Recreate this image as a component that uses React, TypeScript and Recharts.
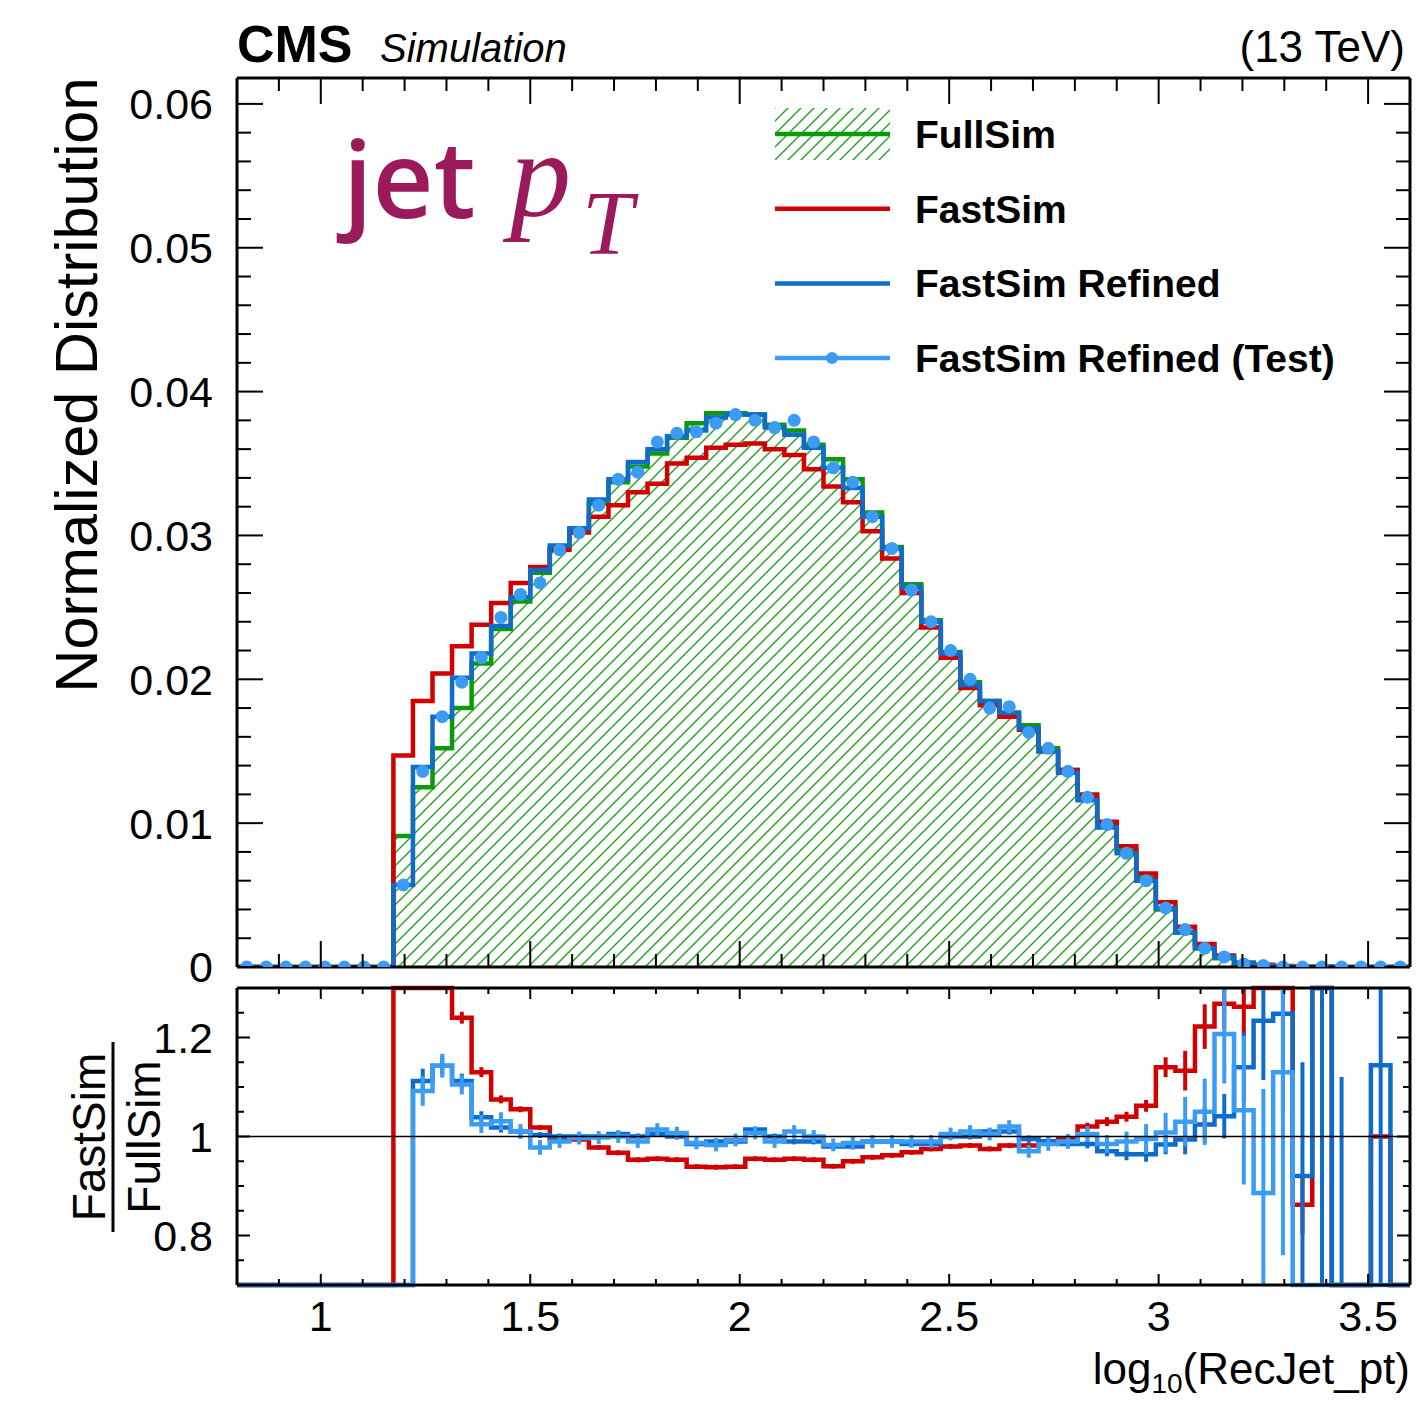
import React from 'react';
import {
  ComposedChart,
  Area,
  Line,
  Scatter,
  XAxis,
  YAxis,
  ErrorBar,
  ReferenceLine,
  Legend,
} from 'recharts';

// binning of log10(RecJet_pt): 60 equal bins
const X_MIN = 0.8;
const X_MAX = 3.6;
const N_BINS = 60;
const BIN_W = (X_MAX - X_MIN) / N_BINS;

// normalized distributions, one value per bin
const fullSim = [
  0, 0, 0, 0, 0, 0, 0, 0, 0.0091, 0.0125,
  0.0152, 0.018, 0.0211, 0.0235, 0.0254, 0.0274, 0.0291, 0.0304, 0.0322, 0.0337,
  0.0348, 0.0357, 0.0368, 0.0378, 0.0385, 0.0385, 0.0384, 0.0377, 0.0373, 0.0363,
  0.0353, 0.0339, 0.0316, 0.0292, 0.0266, 0.0241, 0.0219, 0.0198, 0.0185, 0.0176,
  0.0168, 0.0152, 0.0137, 0.0117, 0.0099, 0.0081, 0.0062, 0.004, 0.0024, 0.0013,
  0.0006, 0.0002, 0.0001, 0.00005, 0.00002, 0.00001, 0, 0, 0, 0,
];
const fastSim = [
  0, 0, 0, 0, 0, 0, 0, 0, 0.0147, 0.0185,
  0.0204, 0.0223, 0.0238, 0.0253, 0.0267, 0.0278, 0.029, 0.0302, 0.0313, 0.0321,
  0.033, 0.0336, 0.035, 0.0354, 0.0361, 0.0363, 0.0364, 0.036, 0.0356, 0.0346,
  0.0334, 0.0323, 0.0303, 0.0284, 0.026, 0.0236, 0.0215, 0.0194, 0.0182, 0.0174,
  0.0165, 0.015, 0.0137, 0.012, 0.0101, 0.0084, 0.0065, 0.0045, 0.0028, 0.0016,
  0.0008, 0.0003, 0.00015, 0.00007, 0.00002, 0.00001, 0, 0, 0, 0,
];
const fastSimRefined = [
  0, 0, 0, 0, 0, 0, 0, 0, 0.0057, 0.0139,
  0.0174, 0.0201, 0.0218, 0.0237, 0.0257, 0.0276, 0.0293, 0.0305, 0.0325, 0.0339,
  0.0351, 0.036, 0.0369, 0.0373, 0.0382, 0.0384, 0.0384, 0.0375, 0.037, 0.0361,
  0.0347, 0.0333, 0.0313, 0.0291, 0.0264, 0.024, 0.0218, 0.0196, 0.0185, 0.0177,
  0.0166, 0.015, 0.0135, 0.0116, 0.0097, 0.0079, 0.006, 0.0041, 0.0024, 0.0013,
  0.0007, 0.0003, 0.0001, 0.00005, 0.00002, 0.00001, 0, 0, 0, 0,
];
const fastSimTest = [
  0, 0, 0, 0, 0, 0, 0, 0, 0.0057, 0.0136,
  0.0174, 0.0198, 0.0215, 0.0243, 0.0259, 0.0267, 0.029, 0.0302, 0.0321, 0.0339,
  0.0344, 0.0365, 0.0371, 0.0372, 0.0378, 0.0384, 0.038, 0.0375, 0.038, 0.0365,
  0.0347, 0.0337, 0.0313, 0.0291, 0.0262, 0.024, 0.022, 0.02, 0.018, 0.0181,
  0.0163, 0.0152, 0.0136, 0.0118, 0.0099, 0.0079, 0.006, 0.0041, 0.0026, 0.0013,
  0.0007, 0.0002, 0.0001, 0, 0, 0, 0, 0, 0, 0,
];

// ratios to FullSim (as read from the lower pad) and their errors
const ratioFast = [
  0, 0, 0, 0, 0, 0, 0, 0, 1.61, 1.47,
  1.34, 1.24, 1.13, 1.075, 1.055, 1.018, 0.994, 0.994, 0.978, 0.967,
  0.953, 0.955, 0.953, 0.939, 0.938, 0.939, 0.955, 0.953, 0.955, 0.953,
  0.94, 0.95, 0.958, 0.962, 0.968, 0.975, 0.98, 0.982, 0.975, 0.982,
  0.982, 0.99, 0.995, 1.02, 1.03, 1.04, 1.062, 1.14, 1.133, 1.222,
  1.268, 1.262, 1.45, 1.45, 0.862, 1.45, 0, 0, 1.0, 0,
];
const ratioRefined = [
  0, 0, 0, 0, 0, 0, 0, 0, 0.63, 1.112,
  1.143, 1.112, 1.039, 1.018, 1.01, 1.003, 1.0, 1.0, 1.0, 1.005,
  1.0, 1.005, 1.0, 0.985, 0.99, 0.99, 1.014, 1.0, 0.99, 0.99,
  0.98, 0.98, 0.99, 0.99, 0.985, 0.985, 1.0, 1.0, 1.01, 1.01,
  0.995, 0.99, 0.985, 0.985, 0.97, 0.964, 0.964, 0.984, 0.994, 1.024,
  1.041, 1.14, 1.234, 1.248, 0.92, 1.5, 0, 0, 1.144, 0,
];
const ratioTest = [
  0, 0, 0, 0, 0, 0, 0, 0, 0.63, 1.092,
  1.143, 1.105, 1.025, 1.031, 1.01, 0.978, 0.99, 0.997, 0.998, 1.0,
  0.99, 1.014, 1.007, 0.987, 0.983, 0.993, 1.007, 0.99, 1.01, 1.0,
  0.983, 0.987, 0.99, 0.99, 0.99, 0.99, 1.005, 1.01, 1.005, 1.02,
  0.97, 0.985, 0.99, 1.005, 0.985, 0.99, 0.995, 1.008, 1.03, 1.05,
  1.207, 1.053, 0.886, 1.13, 0, 0, 0, 0, 0, 0,
];
const errFast = [
  0, 0, 0, 0, 0, 0, 0, 0, 0.03, 0.02,
  0.015, 0.012, 0.01, 0.008, 0.006, 0.005, 0.005, 0.005, 0.005, 0.005,
  0.005, 0.005, 0.005, 0.005, 0.005, 0.005, 0.005, 0.005, 0.005, 0.005,
  0.005, 0.005, 0.005, 0.005, 0.005, 0.005, 0.005, 0.005, 0.005, 0.005,
  0.006, 0.006, 0.007, 0.008, 0.009, 0.01, 0.012, 0.02, 0.04, 0.045,
  0.05, 0.065, 0.1, 0.15, 0.06, 0.2, 0, 0, 0, 0,
];
const errRefined = [
  0, 0, 0, 0, 0, 0, 0, 0, 0.03, 0.025,
  0.02, 0.015, 0.012, 0.01, 0.008, 0.006, 0.006, 0.006, 0.006, 0.006,
  0.006, 0.006, 0.006, 0.006, 0.006, 0.006, 0.006, 0.006, 0.006, 0.006,
  0.006, 0.006, 0.006, 0.006, 0.006, 0.006, 0.006, 0.006, 0.006, 0.006,
  0.007, 0.007, 0.008, 0.009, 0.01, 0.012, 0.015, 0.02, 0.03, 0.035,
  0.045, 0.07, 0.12, 0.2, 0.23, 1.0, 1.12, 0, 0.8, 0,
];
const errTest = [
  0, 0, 0, 0, 0, 0, 0, 0, 0.03, 0.03,
  0.024, 0.02, 0.018, 0.018, 0.015, 0.015, 0.013, 0.013, 0.013, 0.013,
  0.013, 0.013, 0.013, 0.013, 0.013, 0.013, 0.013, 0.013, 0.013, 0.013,
  0.013, 0.013, 0.013, 0.013, 0.013, 0.013, 0.013, 0.013, 0.013, 0.013,
  0.013, 0.014, 0.015, 0.016, 0.018, 0.02, 0.03, 0.04, 0.05, 0.067,
  0.1, 0.15, 0.21, 0.37, 0, 0, 0, 0, 0, 0,
];

// axis ticks
const xMajorTicks = [1, 1.5, 2, 2.5, 3, 3.5];
const xTickLabels = ['1', '1.5', '2', '2.5', '3', '3.5'];
const yMajorTicks = [0, 0.01, 0.02, 0.03, 0.04, 0.05, 0.06];
const yTickLabels = ['0', '0.01', '0.02', '0.03', '0.04', '0.05', '0.06'];
const rMajorTicks = [0.8, 1, 1.2];
const rTickLabels = ['0.8', '1', '1.2'];

const COLORS = {
  full: '#0c9a0c',
  hatch: '#2aa52a',
  fast: '#d20000',
  refined: '#0f6ccb',
  test: '#3b9cf5',
};

const legendItems = [
  { label: 'FullSim', color: COLORS.full, kind: 'fill' },
  { label: 'FastSim', color: COLORS.fast, kind: 'line' },
  { label: 'FastSim Refined', color: COLORS.refined, kind: 'line' },
  { label: 'FastSim Refined (Test)', color: COLORS.test, kind: 'marker' },
];

const R_MIN = 0.7;
const R_MAX = 1.3;
const Y_MAX = 0.0618;

const FONT = "'Liberation Sans', Arial, Helvetica, sans-serif";
const SERIF = "'Liberation Serif', 'DejaVu Serif', serif";
const PURPLE = '#9a1a5c';

const steps = (lo: number, hi: number, step: number) => {
  const out: number[] = [];
  for (let v = lo; v <= hi + 1e-9; v += step) out.push(Math.round(v * 1e6) / 1e6);
  return out;
};
const xTicks = steps(0.9, 3.5, 0.1);
const yTicks = steps(0, 0.06, 0.002);
const rTicks = steps(0.75, 1.25, 0.05);

// histogram rows at the bin edges (step-after), last bin repeated at the upper edge
const histRows = Array.from({ length: N_BINS + 1 }, (_, i) => {
  const k = Math.min(i, N_BINS - 1);
  return { x: X_MIN + i * BIN_W, full: fullSim[k], fast: fastSim[k], refined: fastSimRefined[k] };
});
const testPoints = fastSimTest.map((v, i) => ({ x: X_MIN + (i + 0.5) * BIN_W, y: v }));

// out-of-range ratios are drawn on the pad edge, like ROOT does
const clampR = (v: number) => Math.min(R_MAX, Math.max(R_MIN, v));
const errPair = (v: number, e: number) => {
  const c = clampR(v);
  return [c - clampR(v - e), clampR(v + e) - c];
};
const ratioRows = Array.from({ length: N_BINS + 1 }, (_, i) => {
  const k = Math.min(i, N_BINS - 1);
  return {
    x: X_MIN + i * BIN_W,
    fast: clampR(ratioFast[k]),
    refined: clampR(ratioRefined[k]),
    test: clampR(ratioTest[k]),
  };
});
const ratioPoints = ratioFast.map((v, i) => ({
  x: X_MIN + (i + 0.5) * BIN_W,
  fast: clampR(v),
  fastErr: errPair(v, errFast[i]),
  refined: clampR(ratioRefined[i]),
  refinedErr: errPair(ratioRefined[i], errRefined[i]),
  test: clampR(ratioTest[i]),
  testErr: errPair(ratioTest[i], errTest[i]),
}));

type Side = 'bottom' | 'top' | 'left' | 'right';

const makeTick = (side: Side, majors: number[], majorLen: number, minorLen: number, labels?: string[]) =>
  (props: any) => {
    const { x, y, payload } = props;
    const idx = majors.findIndex((m) => Math.abs(m - payload.value) < 1e-6);
    const len = idx >= 0 ? majorLen : minorLen;
    let x2 = x;
    let y2 = y;
    if (side === 'bottom') y2 = y - len;
    if (side === 'top') y2 = y + len;
    if (side === 'left') x2 = x + len;
    if (side === 'right') x2 = x - len;
    const showLabel = labels && idx >= 0;
    return (
      <g>
        <line x1={x} y1={y} x2={x2} y2={y2} stroke="#000" strokeWidth={2} />
        {showLabel && side === 'bottom' && (
          <text x={x} y={y + 46} textAnchor="middle" fontSize={43} fontFamily={FONT} fill="#000">
            {labels![idx]}
          </text>
        )}
        {showLabel && side === 'left' && (
          <text x={x - 24} y={y} dy="0.36em" textAnchor="end" fontSize={43} fontFamily={FONT} fill="#000">
            {labels![idx]}
          </text>
        )}
      </g>
    );
  };

const frame = { stroke: '#000', strokeWidth: 3 };

const HatchPattern = ({ id }: { id: string }) => (
  <pattern id={id} patternUnits="userSpaceOnUse" width={13} height={13}>
    <path d="M-2,2 L2,-2 M0,13 L13,0 M11,15 L15,11" stroke={COLORS.hatch} strokeWidth={1.5} />
  </pattern>
);

const renderLegend = () => (
  <svg width={640} height={300}>
    <defs>
      <HatchPattern id="hatchLegend" />
    </defs>
    {legendItems.map((item, i) => {
      const cy = 34 + i * 74.7;
      return (
        <g key={item.label}>
          {item.kind === 'fill' && <rect x={5} y={cy - 26} width={115} height={52} fill="url(#hatchLegend)" />}
          <line x1={5} x2={120} y1={cy} y2={cy} stroke={item.color} strokeWidth={4.5} />
          {item.kind === 'marker' && <circle cx={62} cy={cy} r={6} fill={item.color} />}
          <text x={145} y={cy + 14} fontSize={39} fontWeight="bold" fontFamily={FONT} fill="#000">
            {item.label}
          </text>
        </g>
      );
    })}
  </svg>
);

const noShape = () => <g />;

const App: React.FC = () => {
  return (
    <div style={{ position: 'absolute', left: 0, top: 0, width: 1419, height: 1401, background: '#fff' }}>
      {/* main pad */}
      <div style={{ position: 'absolute', left: 0, top: 0 }}>
        <ComposedChart width={1419} height={1000} data={histRows} margin={{ top: 77, right: 0, bottom: 25, left: 0 }}>
          <defs>
            <HatchPattern id="hatchFull" />
          </defs>
          <XAxis
            dataKey="x"
            type="number"
            domain={[X_MIN, X_MAX]}
            allowDataOverflow
            ticks={xTicks}
            interval={0}
            height={8}
            tickSize={0}
            tickMargin={0}
            tickLine={false}
            axisLine={frame}
            tick={makeTick('bottom', xMajorTicks, 26, 13)}
          />
          <XAxis
            xAxisId="top"
            orientation="top"
            dataKey="x"
            type="number"
            domain={[X_MIN, X_MAX]}
            allowDataOverflow
            ticks={xTicks}
            interval={0}
            height={1}
            tickSize={0}
            tickMargin={0}
            tickLine={false}
            axisLine={frame}
            tick={makeTick('top', xMajorTicks, 26, 13)}
          />
          <YAxis
            type="number"
            domain={[0, Y_MAX]}
            allowDataOverflow
            ticks={yTicks}
            interval={0}
            width={237}
            tickSize={0}
            tickMargin={0}
            tickLine={false}
            axisLine={frame}
            tick={makeTick('left', yMajorTicks, 26, 14, yTickLabels)}
          />
          <YAxis
            yAxisId="right"
            orientation="right"
            type="number"
            domain={[0, Y_MAX]}
            allowDataOverflow
            ticks={yTicks}
            interval={0}
            width={9}
            tickSize={0}
            tickMargin={0}
            tickLine={false}
            axisLine={frame}
            tick={makeTick('right', yMajorTicks, 26, 14)}
          />
          <Area
            type="stepAfter"
            dataKey="full"
            stroke={COLORS.full}
            strokeWidth={4.5}
            fill="url(#hatchFull)"
            fillOpacity={1}
            dot={false}
            activeDot={false}
            isAnimationActive={false}
          />
          <Line type="stepAfter" dataKey="fast" stroke={COLORS.fast} strokeWidth={4.5} dot={false} activeDot={false} isAnimationActive={false} />
          <Line type="stepAfter" dataKey="refined" stroke={COLORS.refined} strokeWidth={4.5} dot={false} activeDot={false} isAnimationActive={false} />
          <Scatter
            data={testPoints}
            dataKey="y"
            fill={COLORS.test}
            shape={(p: any) => <circle cx={p.cx} cy={p.cy} r={6.5} fill={COLORS.test} />}
            isAnimationActive={false}
          />
          <Legend
            layout="horizontal"
            verticalAlign="middle"
            align="center"
            content={renderLegend}
            wrapperStyle={{ position: 'absolute', left: 770, top: 100, width: 640, height: 300 }}
          />
        </ComposedChart>
      </div>

      {/* ratio pad */}
      <div style={{ position: 'absolute', left: 0, top: 975 }}>
        <ComposedChart width={1419} height={426} data={ratioRows} margin={{ top: 12, right: 0, bottom: 0, left: 0 }}>
          <XAxis
            dataKey="x"
            type="number"
            domain={[X_MIN, X_MAX]}
            allowDataOverflow
            ticks={xTicks}
            interval={0}
            height={116}
            tickSize={0}
            tickMargin={0}
            tickLine={false}
            axisLine={frame}
            tick={makeTick('bottom', xMajorTicks, 11, 6, xTickLabels)}
          />
          <XAxis
            xAxisId="top"
            orientation="top"
            dataKey="x"
            type="number"
            domain={[X_MIN, X_MAX]}
            allowDataOverflow
            ticks={xTicks}
            interval={0}
            height={1}
            tickSize={0}
            tickMargin={0}
            tickLine={false}
            axisLine={frame}
            tick={makeTick('top', xMajorTicks, 11, 6)}
          />
          <YAxis
            type="number"
            domain={[R_MIN, R_MAX]}
            ticks={rTicks}
            interval={0}
            width={237}
            tickSize={0}
            tickMargin={0}
            tickLine={false}
            axisLine={frame}
            tick={makeTick('left', rMajorTicks, 13, 7, rTickLabels)}
          />
          <YAxis
            yAxisId="right"
            orientation="right"
            type="number"
            domain={[R_MIN, R_MAX]}
            allowDataOverflow
            ticks={rTicks}
            interval={0}
            width={9}
            tickSize={0}
            tickMargin={0}
            tickLine={false}
            axisLine={frame}
            tick={makeTick('right', rMajorTicks, 13, 7)}
          />
          <Line type="stepAfter" dataKey="fast" stroke={COLORS.fast} strokeWidth={4.5} dot={false} activeDot={false} isAnimationActive={false} />
          <Scatter data={ratioPoints} dataKey="fast" shape={noShape} isAnimationActive={false}>
            <ErrorBar dataKey="fastErr" direction="y" width={0} stroke={COLORS.fast} strokeWidth={4} isAnimationActive={false} />
          </Scatter>
          <Line type="stepAfter" dataKey="refined" stroke={COLORS.refined} strokeWidth={4.5} dot={false} activeDot={false} isAnimationActive={false} />
          <Scatter data={ratioPoints} dataKey="refined" shape={noShape} isAnimationActive={false}>
            <ErrorBar dataKey="refinedErr" direction="y" width={0} stroke={COLORS.refined} strokeWidth={4} isAnimationActive={false} />
          </Scatter>
          <Line type="stepAfter" dataKey="test" stroke={COLORS.test} strokeWidth={4.5} dot={false} activeDot={false} isAnimationActive={false} />
          <Scatter data={ratioPoints} dataKey="test" shape={noShape} isAnimationActive={false}>
            <ErrorBar dataKey="testErr" direction="y" width={0} stroke={COLORS.test} strokeWidth={4} isAnimationActive={false} />
          </Scatter>
          <ReferenceLine y={1} stroke="#000" strokeWidth={1.5} />
        </ComposedChart>
      </div>

      {/* titles and axis labels */}
      <svg
        width={1419}
        height={1401}
        style={{ position: 'absolute', left: 0, top: 0, pointerEvents: 'none' }}
      >
        <text x={237} y={62} fontSize={52} fontWeight="bold" fontFamily={FONT}>CMS</text>
        <text x={380} y={62} fontSize={40} fontStyle="italic" fontFamily={FONT}>Simulation</text>
        <text x={1405} y={62} fontSize={44} textAnchor="end" fontFamily={FONT}>(13 TeV)</text>

        <text x={343} y={218} fontSize={106} fontWeight={600} fontFamily="'Open Sans', 'Noto Sans', sans-serif" fill={PURPLE}>
          jet
        </text>
        <text x={510} y={216} fontSize={122} fontStyle="italic" fontFamily={SERIF} fill={PURPLE}>
          p
        </text>
        <text x={582} y={254} fontSize={92} fontStyle="italic" fontFamily={SERIF} fill={PURPLE}>
          T
        </text>

        <text transform="translate(97,385) rotate(-90)" textAnchor="middle" fontSize={59.5} fontFamily={FONT}>
          Normalized Distribution
        </text>

        <text transform="translate(105,1137) rotate(-90)" textAnchor="middle" fontSize={46} fontFamily={FONT}>
          FastSim
        </text>
        <line x1={113} x2={113} y1={1042} y2={1232} stroke="#000" strokeWidth={3} />
        <text transform="translate(160,1137) rotate(-90)" textAnchor="middle" fontSize={46} fontFamily={FONT}>
          FullSim
        </text>

        <text x={1410} y={1384} textAnchor="end" fontSize={44} fontFamily={FONT}>
          log
          <tspan dy={9} fontSize={28}>10</tspan>
          <tspan dy={-9}>(RecJet_pt)</tspan>
        </text>
      </svg>
    </div>
  );
};

export default App;
